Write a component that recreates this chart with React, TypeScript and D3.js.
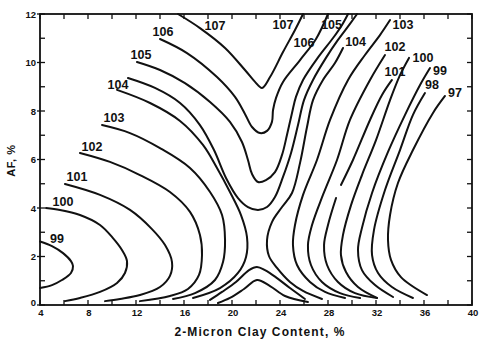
import * as d3 from 'd3';

// axis ticks
const xTicks = [4, 8, 12, 16, 20, 24, 28, 32, 36, 40];
const yTicks = [0, 2, 4, 6, 8, 10, 12];
const xMinor = d3.range(4, 41, 2);
const yMinor = d3.range(0, 13, 1);

// contour lines, points are [clay %, AF %]
const c99 = [[4, 2.62], [5, 2.43], [5.92, 2.14], [6.58, 1.81], [6.75, 1.61], [6.58, 1.32], [5.83, 1.03], [5, 0.82], [4, 0.7]];
const c100 = [[4.5, 4.0], [5.67, 3.92], [7.33, 3.71], [9, 3.3], [10.08, 2.76], [10.83, 2.27], [11.25, 1.81], [11.08, 1.32], [10.42, 0.91], [9, 0.54], [7.33, 0.29], [6.08, 0.16]];
const c101 = [[6.08, 4.99], [9, 4.54], [11.5, 3.92], [13.33, 3.13], [14.42, 2.47], [15, 1.77], [14.83, 1.2], [14, 0.74], [12.33, 0.41], [10.67, 0.25], [9.42, 0.16]];
const c102 = [[7.33, 6.27], [9.83, 5.9], [12.33, 5.36], [14.83, 4.66], [16.5, 3.84], [17.33, 2.89], [17.5, 2.06], [17.25, 1.24], [16.33, 0.66], [14.83, 0.37], [12.33, 0.16]];
const c103 = [[9.17, 7.42], [11.5, 7.09], [14, 6.47], [16.5, 5.65], [18.17, 4.66], [19.17, 3.71], [19.42, 2.68], [19.25, 1.77], [18.58, 1.03], [16.92, 0.49], [15.08, 0.25]];
const c104a = [[10.42, 8.87], [13.17, 8.33], [15.67, 7.59], [17.58, 6.6], [18.75, 5.65], [19.83, 4.66], [20.75, 3.71], [21.25, 2.8], [21.17, 1.98], [20.5, 1.32], [19, 0.7], [16.75, 0.29]];
const c104b = [[11.33, 9.36], [13.58, 8.95], [15.67, 8.33], [17.33, 7.42], [18.5, 6.39], [19.5, 5.24], [20.5, 4.41], [21.33, 4.04], [22.17, 3.92], [22.92, 4.04], [23.58, 4.45], [24.25, 5.28], [24.92, 6.27], [25.5, 7.42], [26, 8.45], [26.75, 9.28], [27.83, 10.19], [28.83, 10.93], [29.83, 11.59], [30.42, 12]];
const c104c = [[29.25, 10.6], [28.58, 9.98], [27.58, 9.28], [26.75, 8.45], [26.25, 7.34], [25.67, 5.86], [25, 4.62], [24.17, 4.04], [23.33, 3.42], [22.92, 2.68], [23.08, 2.02], [23.75, 1.53], [24.83, 0.95], [25.92, 0.58], [27.5, 0.25]];
const c105 = [[12.08, 10.02], [14, 9.69], [16.08, 9.15], [18.17, 8.37], [19.83, 7.55], [20.83, 6.72], [21.33, 5.98], [21.67, 5.4], [22.17, 5.07], [22.83, 5.15], [23.58, 5.48], [24.17, 6.19], [24.58, 7.01], [25, 7.92], [25.33, 8.58], [25.92, 9.28], [27.17, 10.21], [28.42, 11.01], [29.17, 11.55], [29.67, 12]];
const c106 = [[14, 10.97], [16.25, 10.39], [18.75, 9.4], [20.25, 8.58], [21.08, 7.88], [21.67, 7.34], [22.33, 7.09], [22.92, 7.18], [23.33, 7.55], [23.42, 8.04], [23.67, 8.54], [24.25, 9.2], [25.67, 10.1], [27, 10.97], [28, 12]];
const c107 = [[15.5, 12], [17.33, 11.42], [19.42, 10.6], [21.08, 9.69], [21.92, 9.2], [22.5, 8.95], [23.17, 9.4], [24.25, 10.43], [25.25, 11.34], [25.92, 12]];
const cHat1 = [[18.17, 0.21], [19.17, 0.54], [20.33, 0.95], [21.42, 1.44], [22.08, 1.57], [22.75, 1.44], [23.75, 1.11], [24.83, 0.7], [26.08, 0.25]];
const cHat2 = [[18.83, 0.08], [19.83, 0.29], [21, 0.66], [22.08, 1.03], [23.17, 0.78], [24.42, 0.37], [26.33, 0.12]];
const r103 = [[33.17, 11.75], [32.33, 11.13], [31.08, 10.31], [29.67, 9.28], [28.17, 7.63], [27.08, 5.98], [25.92, 4.54], [25.25, 3.3], [25.08, 2.47], [25.42, 1.65], [26.5, 0.95], [27.75, 0.54], [29.42, 0.29]];
const r102 = [[32.75, 10.31], [31.5, 9.28], [29.83, 7.63], [28.75, 5.98], [27.58, 4.54], [26.67, 3.3], [26.33, 2.47], [26.58, 1.65], [27.5, 0.95], [29, 0.49], [30.67, 0.29]];
const r101top = [[33.33, 9.28], [32.5, 8.66], [31.5, 7.63], [30.08, 5.98], [29.08, 4.95]];
const r101 = [[28.67, 4.41], [28, 3.3], [27.67, 2.47], [27.92, 1.65], [28.83, 0.95], [30.25, 0.49], [32.08, 0.29]];
const r100 = [[34.75, 10.19], [34, 9.48], [33.17, 8.45], [32, 6.8], [30.83, 5.36], [29.92, 4.12], [29.25, 2.89], [29.08, 2.06], [29.5, 1.36], [30.5, 0.74], [32.08, 0.29]];
const r99 = [[36.5, 9.77], [35.67, 9.07], [34.42, 7.84], [33, 6.31], [31.67, 4.62], [30.83, 3.18], [30.5, 2.27], [30.83, 1.44], [31.92, 0.82], [33.42, 0.33]];
const r98 = [[36.08, 8.74], [35.08, 7.84], [34, 6.39], [32.75, 4.74], [31.83, 3.09], [31.67, 2.06], [32.17, 1.32], [33.33, 0.74], [35.08, 0.29]];
const r97 = [[37.75, 8.62], [36.75, 7.92], [35.08, 6.39], [33.83, 5.03], [33.17, 3.71], [33, 2.68], [33.25, 1.86], [34.08, 1.15], [36.25, 0.41]];

const contours = [c99, c100, c101, c102, c103, c104a, c104b, c104c, c105, c106, c107, cHat1, cHat2, r103, r102, r101top, r101, r100, r99, r98, r97];

// contour labels: [text, clay %, AF %]
const leftLabels: [string, number, number][] = [
  ['99', 5.42, 2.72], ['100', 5.92, 4.25], ['101', 7.08, 5.28], ['102', 8.33, 6.52], ['103', 10.17, 7.71],
  ['104', 10.5, 9.07], ['105', 12.42, 10.31], ['106', 14.25, 11.26], ['107', 18.58, 11.51],
];
const rightLabels: [string, number, number][] = [
  ['107', 24.25, 11.55], ['106', 26.0, 10.8], ['105', 28.3, 11.55], ['104', 30.3, 10.85], ['103', 34.25, 11.55],
  ['102', 33.58, 10.64], ['101', 33.58, 9.61], ['100', 35.92, 10.19], ['99', 37.33, 9.65], ['98', 36.67, 9.07], ['97', 38.58, 8.74],
];

const W = 481;
const H = 339;
const margin = { top: 14, right: 9, bottom: 34, left: 40 };
const font = '"Liberation Sans", Arial, sans-serif';
const ink = '#111';

export default function App() {
  const x = d3.scaleLinear().domain([4, 40]).range([margin.left, W - margin.right]);
  const y = d3.scaleLinear().domain([0, 12]).range([H - margin.bottom, margin.top]);
  const line = d3.line<number[]>()
    .x(d => x(d[0]))
    .y(d => y(d[1]))
    .curve(d3.curveCatmullRom.alpha(0.5));

  const x0 = x(4), x1 = x(40), y0 = y(0), y1 = y(12);

  return (
    <div style={{ position: 'fixed', left: 0, top: 0 }}>
      <svg width={W} height={H} style={{ display: 'block', background: '#fff' }}>
        {/* contours */}
        <g fill="none" stroke={ink} strokeWidth={2} strokeLinecap="round" strokeLinejoin="round">
          {contours.map((c, i) => <path key={i} d={line(c) || ''} />)}
        </g>

        {/* frame */}
        <rect x={x0} y={y1} width={x1 - x0} height={y0 - y1} fill="none" stroke={ink} strokeWidth={1.8} />

        {/* ticks, inward */}
        <g stroke={ink} strokeWidth={1.3}>
          {xMinor.map(v => <line key={'b' + v} x1={x(v)} x2={x(v)} y1={y0} y2={y0 - 5} />)}
          {xMinor.map(v => <line key={'t' + v} x1={x(v)} x2={x(v)} y1={y1} y2={y1 + 5} />)}
          {yMinor.map(v => <line key={'l' + v} x1={x0} x2={x0 + 5} y1={y(v)} y2={y(v)} />)}
          {yMinor.map(v => <line key={'r' + v} x1={x1} x2={x1 - 5} y1={y(v)} y2={y(v)} />)}
          {yTicks.map(v => <line key={'lo' + v} x1={x0 - 3} x2={x0} y1={y(v)} y2={y(v)} />)}
        </g>

        {/* tick labels */}
        <g fontFamily={font} fontWeight="bold" fontSize={9.5} fill={ink}>
          {xTicks.map(v => (
            <text key={'xl' + v} x={x(v) + 1} y={y0 + 11} textAnchor="middle">{v}</text>
          ))}
          {yTicks.map(v => (
            <text key={'yl' + v} x={x0 - 4} y={y(v) + (v === 0 ? 1 : 3.5)} textAnchor="end">{v}</text>
          ))}
        </g>

        {/* contour labels */}
        <g fontFamily={font} fontWeight="bold" fontSize={12.5} fill={ink}>
          {leftLabels.concat(rightLabels).map(([t, cx, cy], i) => (
            <text key={i} x={x(cx)} y={y(cy)} textAnchor="middle" dominantBaseline="central">{t}</text>
          ))}
        </g>

        {/* axis titles */}
        <text x={(x0 + x1) / 2 + 4} y={H - 3} textAnchor="middle" fontFamily={font} fontWeight="bold"
          fontSize={12} letterSpacing={1.1} fill={ink}>2-Micron Clay Content, %</text>
        <text transform={`translate(15, ${y(6) + 1}) rotate(-90)`} textAnchor="middle" fontFamily={font}
          fontWeight="bold" fontSize={11} letterSpacing={0.6} fill={ink}>AF, %</text>
      </svg>
    </div>
  );
}
